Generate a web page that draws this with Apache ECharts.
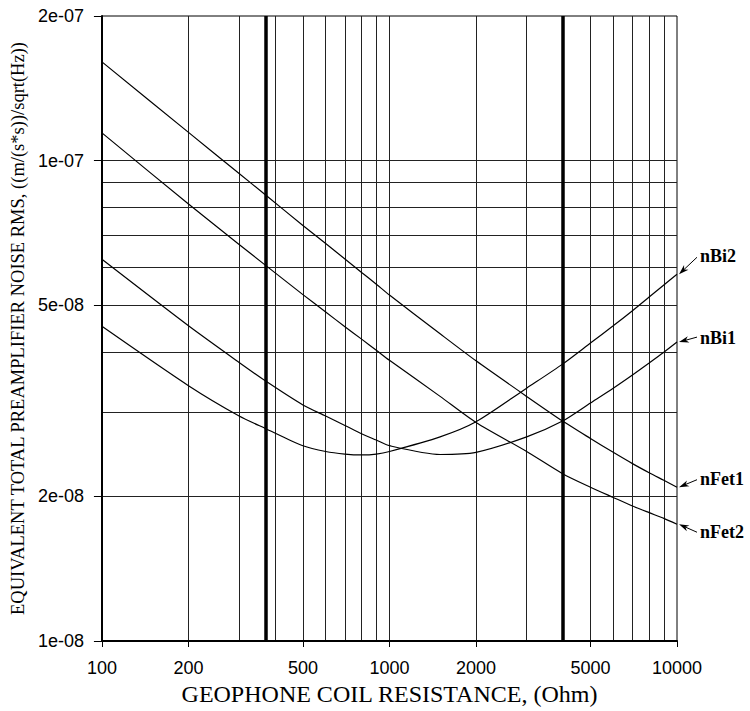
<!DOCTYPE html>
<html><head><meta charset="utf-8">
<script src="https://cdn.jsdelivr.net/npm/echarts@6/dist/echarts.min.js"></script>
<style>html,body{margin:0;padding:0;background:#fff}#c{width:750px;height:711px}</style>
</head><body><div id="c"></div>
<script>
const resistance = [100,200,300,370,500,600,700,800,900,1000,1500,2000,3000,4000,5000,6000,7000,8000,9000,10000];
const nFet1 = [1.605e-7,1.145e-7,9.40e-8,8.49e-8,7.33e-8,6.72e-8,6.24e-8,5.85e-8,5.53e-8,5.25e-8,4.36e-8,3.83e-8,3.23e-8,2.87e-8,2.64e-8,2.47e-8,2.34e-8,2.24e-8,2.16e-8,2.09e-8];
const nFet2 = [1.142e-7,8.12e-8,6.69e-8,6.06e-8,5.26e-8,4.84e-8,4.51e-8,4.25e-8,4.03e-8,3.84e-8,3.23e-8,2.85e-8,2.48e-8,2.23e-8,2.09e-8,1.99e-8,1.91e-8,1.85e-8,1.80e-8,1.75e-8];
const nBi2 = [4.52e-8,3.40e-8,2.94e-8,2.77e-8,2.55e-8,2.48e-8,2.45e-8,2.44e-8,2.45e-8,2.48e-8,2.66e-8,2.86e-8,3.36e-8,3.77e-8,4.17e-8,4.53e-8,4.87e-8,5.20e-8,5.51e-8,5.80e-8];
const nBi1 = [6.23e-8,4.53e-8,3.80e-8,3.48e-8,3.10e-8,2.94e-8,2.81e-8,2.70e-8,2.62e-8,2.55e-8,2.445e-8,2.47e-8,2.66e-8,2.87e-8,3.13e-8,3.36e-8,3.58e-8,3.79e-8,3.99e-8,4.19e-8];
const seriesNames = ['nFet1','nFet2','nBi2','nBi1'];
const xTickLabels = [100,200,500,1000,2000,5000,10000];
const yTickLabels = [1e-8,2e-8,5e-8,1e-7,2e-7];
const xGridValues = [200,300,400,500,600,700,800,900,1000,2000,3000,4000,5000,6000,7000,8000,9000];
const yGridValues = [2e-8,3e-8,4e-8,5e-8,6e-8,7e-8,8e-8,9e-8,1e-7];
const markerResistances = [370, 4000];
const xTitle = 'GEOPHONE COIL RESISTANCE, (Ohm)';
const yTitle = 'EQUIVALENT TOTAL PREAMPLIFIER NOISE RMS, ((m/(s*s))/sqrt(Hz))';

const seriesValues = [nFet1, nFet2, nBi2, nBi1];
// label / arrow placement offsets (pixels, relative to curve end)
const annot = {
  nBi2:  {tdy: -18, ax: 20, ay: -17},
  nBi1:  {tdy: -4,  ax: 20, ay: -5},
  nFet1: {tdy: -8,  ax: 20, ay: -7.5},
  nFet2: {tdy: 8,   ax: 20, ay: 8}
};

function fmtExp(v) {
  const s = Number(v).toExponential(0);
  return s.replace(/e([+-])(\d)$/, function (m, sg, d) { return 'e' + sg + '0' + d; });
}

const chart = echarts.init(document.getElementById('c'), null, {renderer: 'svg'});
const SANS = 'Liberation Sans';
const SERIF = 'Liberation Serif';

const option = {
  animation: false,
  backgroundColor: '#fff',
  grid: {left: 100, right: 73, top: 16, bottom: 68, show: true, borderColor: '#000', borderWidth: 1, backgroundColor: 'transparent'},
  xAxis: [{
    type: 'log', logBase: 10, min: 100, max: 10000, position: 'bottom',
    name: xTitle, nameLocation: 'middle', nameGap: 41,
    nameTextStyle: {fontFamily: SERIF, fontSize: 24, color: '#000'},
    axisLine: {show: true, onZero: false, lineStyle: {color: '#000', width: 2}},
    axisTick: {show: true, length: 6, lineStyle: {color: '#000', width: 1}, customValues: xTickLabels},
    axisLabel: {show: true, customValues: xTickLabels, margin: 18, fontFamily: SANS, fontSize: 18, color: '#000', formatter: function (v) { return String(Math.round(v)); }},
    splitLine: {show: false}, minorTick: {show: false}
  }, {
    type: 'log', logBase: 10, min: 100, max: 10000, position: 'top',
    axisLine: {show: false}, axisLabel: {show: false},
    axisTick: {show: false, customValues: xGridValues},
    splitLine: {show: true, lineStyle: {color: '#222', width: 1}}
  }],
  yAxis: [{
    type: 'log', logBase: 10, min: 1e-8, max: 2e-7, position: 'left',
    name: yTitle, nameLocation: 'middle', nameGap: 74, nameRotate: 90,
    nameTextStyle: {fontFamily: SERIF, fontSize: 18.5, color: '#000'},
    axisLine: {show: true, onZero: false, lineStyle: {color: '#000', width: 2}},
    axisTick: {show: true, length: 8, lineStyle: {color: '#000', width: 1}, customValues: yTickLabels},
    axisLabel: {show: true, customValues: yTickLabels, margin: 18, fontFamily: SANS, fontSize: 18, color: '#000', formatter: fmtExp},
    splitLine: {show: false}, minorTick: {show: false}
  }, {
    type: 'log', logBase: 10, min: 1e-8, max: 2e-7, position: 'right',
    axisLine: {show: false}, axisLabel: {show: false},
    axisTick: {show: false, customValues: yGridValues},
    splitLine: {show: true, lineStyle: {color: '#222', width: 1}}
  }],
  series: seriesNames.map(function (name, i) {
    const s = {
      name: name, type: 'line', xAxisIndex: 0, yAxisIndex: 0,
      data: resistance.map(function (r, k) { return [r, seriesValues[i][k]]; }),
      showSymbol: false, smooth: 0.25, silent: true,
      lineStyle: {color: '#000', width: 1.2}, z: 5
    };
    if (i === 0) {
      s.markLine = {
        silent: true, symbol: ['none', 'none'], label: {show: false},
        lineStyle: {color: '#000', width: 3.5, type: 'solid'},
        data: markerResistances.map(function (r) { return {xAxis: r}; })
      };
    }
    return s;
  })
};
chart.setOption(option);

const graphics = [];
seriesNames.forEach(function (name, i) {
  const last = resistance.length - 1;
  const p = chart.convertToPixel({xAxisIndex: 0, yAxisIndex: 0}, [resistance[last], seriesValues[i][last]]);
  const a = annot[name];
  const tip = [p[0] + 2, p[1]];
  const tail = [p[0] + a.ax, p[1] + a.ay];
  const dx = tip[0] - tail[0], dy = tip[1] - tail[1];
  const len = Math.sqrt(dx * dx + dy * dy);
  const ux = dx / len, uy = dy / len, nx = -uy, ny = ux;
  const L = 10, W = 3.2, N = 7;
  graphics.push({type: 'line', shape: {x1: tail[0], y1: tail[1], x2: tip[0] - ux * 4, y2: tip[1] - uy * 4}, style: {stroke: '#000', lineWidth: 1}, z: 10});
  graphics.push({type: 'polygon', shape: {points: [
    [tip[0], tip[1]],
    [tip[0] - ux * L + nx * W, tip[1] - uy * L + ny * W],
    [tip[0] - ux * N, tip[1] - uy * N],
    [tip[0] - ux * L - nx * W, tip[1] - uy * L - ny * W]
  ]}, style: {fill: '#000'}, z: 10});
  graphics.push({type: 'text', x: p[0] + 23, y: p[1] + a.tdy, style: {text: name, fontFamily: SERIF, fontWeight: 'bold', fontSize: 18, fill: '#000', verticalAlign: 'middle', align: 'left'}, z: 10});
});
chart.setOption({graphic: graphics});
</script></body></html>
